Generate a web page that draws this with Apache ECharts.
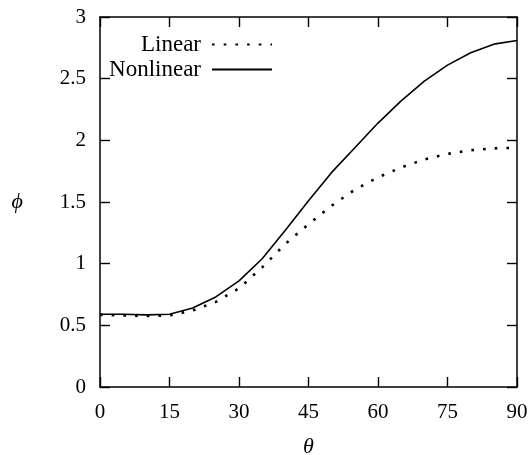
<!DOCTYPE html>
<html>
<head>
<meta charset="utf-8">
<script src="https://cdn.jsdelivr.net/npm/echarts@6/dist/echarts.min.js"></script>
<style>html,body{margin:0;padding:0;background:#fff}#c{width:532px;height:455px}</style>
</head>
<body>
<div id="c"></div>
<script>
const theta = [0,5,10,15,20,25,30,35,40,45,50,55,60,65,70,75,80,85,90];
const linearPhi = [0.585,0.58,0.575,0.58,0.62,0.69,0.80,0.97,1.16,1.32,1.47,1.60,1.70,1.78,1.845,1.89,1.92,1.935,1.94];
const nonlinearPhi = [0.59,0.59,0.585,0.59,0.64,0.73,0.86,1.04,1.27,1.51,1.74,1.94,2.14,2.32,2.48,2.61,2.71,2.78,2.81];
const xTicks = [0,15,30,45,60,75,90];
const yTicks = [0,0.5,1,1.5,2,2.5,3];

const FONT = 'Liberation Serif';
const chart = echarts.init(document.getElementById('c'), null, {renderer:'canvas'});
const axisLine = () => ({show:true, onZero:false, lineStyle:{color:'#000', width:1.5}});
const tick = () => ({show:true, inside:true, length:10, lineStyle:{color:'#000', width:1.4}});
const legendCommon = () => ({right:259, align:'right', orient:'vertical', itemWidth:60, itemHeight:14, padding:0,
  itemStyle:{color:'rgba(0,0,0,0)', borderWidth:0, opacity:0},
  textStyle:{fontFamily:FONT, fontSize:23, color:'#000', padding:[0,6,0,0]}});
chart.setOption({
  animation:false,
  backgroundColor:'#fff',
  grid:{left:100, right:15, top:17, bottom:68, outerBoundsMode:'none', containLabel:false},
  legend:[
    Object.assign({data:['Linear'], top:33}, legendCommon()),
    Object.assign({data:['Nonlinear'], top:58}, legendCommon())
  ],
  xAxis:[
    {type:'value', min:0, max:90, interval:15, position:'bottom',
     axisLine:axisLine(), axisTick:tick(), splitLine:{show:false},
     axisLabel:{margin:15, fontFamily:FONT, fontSize:21, color:'#000',
       formatter:v=>xTicks.includes(v)?String(v):''},
     name:'θ', nameLocation:'middle', nameGap:49,
     nameTextStyle:{fontFamily:FONT, fontStyle:'italic', fontSize:22, color:'#000'}},
    {type:'value', min:0, max:90, interval:15, position:'top',
     axisLine:axisLine(), axisTick:tick(), splitLine:{show:false}, axisLabel:{show:false}}
  ],
  yAxis:[
    {type:'value', min:0, max:3, interval:0.5, position:'left',
     axisLine:axisLine(), axisTick:tick(), splitLine:{show:false},
     axisLabel:{margin:14, fontFamily:FONT, fontSize:21, color:'#000',
       formatter:v=>yTicks.includes(v)?String(v):''},
     name:'ϕ', nameLocation:'middle', nameGap:77, nameRotate:0,
     nameTextStyle:{fontFamily:FONT, fontStyle:'italic', fontSize:22, color:'#000'}},
    {type:'value', min:0, max:3, interval:0.5, position:'right',
     axisLine:axisLine(), axisTick:tick(), splitLine:{show:false}, axisLabel:{show:false}}
  ],
  series:[
    {name:'Linear', type:'line', symbol:'none', smooth:false,
     data:theta.map((t,i)=>[t, linearPhi[i]]),
     lineStyle:{color:'#000', width:2.6, type:[2.6,9.1], cap:'butt'},
     itemStyle:{color:'#000'}},
    {name:'Nonlinear', type:'line', symbol:'none', smooth:false,
     data:theta.map((t,i)=>[t, nonlinearPhi[i]]),
     lineStyle:{color:'#000', width:1.6},
     itemStyle:{color:'#000'}}
  ]
});
</script>
</body>
</html>
